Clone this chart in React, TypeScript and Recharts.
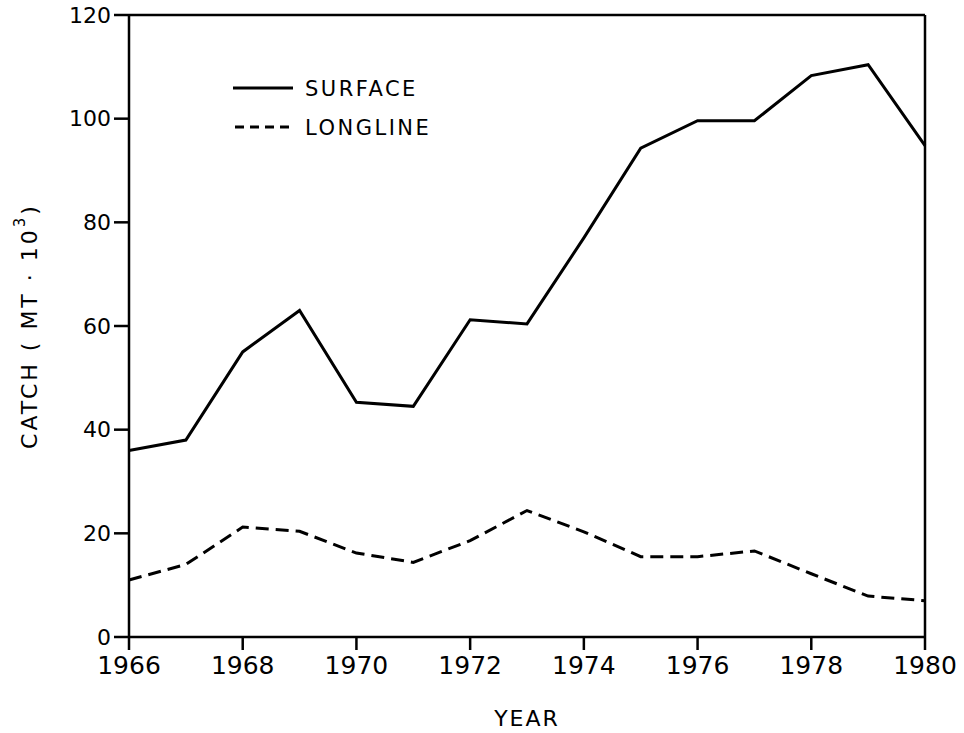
import { LineChart, Line, XAxis, YAxis, ReferenceLine } from "recharts";

const years = [1966, 1967, 1968, 1969, 1970, 1971, 1972, 1973, 1974, 1975, 1976, 1977, 1978, 1979, 1980];
const surface = [36, 38, 55, 63, 45.3, 44.5, 61.2, 60.4, 77, 94.3, 99.6, 99.6, 108.3, 110.4, 94.8];
const longline = [11, 14, 21.2, 20.4, 16.2, 14.4, 18.6, 24.4, 20.3, 15.5, 15.5, 16.6, 12.2, 7.9, 7];
const xTicks = [1966, 1968, 1970, 1972, 1974, 1976, 1978, 1980];
const yTicks = [0, 20, 40, 60, 80, 100, 120];

const data = years.map((year, i) => ({ year, surface: surface[i], longline: longline[i] }));

const FONT = "'DejaVu Sans', sans-serif";

// legend drawn as an overlay so it doesn't eat into the plot margin
function LegendBox() {
  return (
    <svg
      width={260}
      height={70}
      style={{ position: "absolute", left: 233, top: 72, overflow: "visible" }}
    >
      <line x1={0} x2={60} y1={16} y2={16} stroke="#000" strokeWidth={3} />
      <text x={72} y={24} fontFamily={FONT} fontSize={21} letterSpacing={2.5} fill="#000">SURFACE</text>
      <line x1={2} x2={60} y1={55} y2={55} stroke="#000" strokeWidth={3} strokeDasharray="9 6" />
      <text x={72} y={63} fontFamily={FONT} fontSize={21} letterSpacing={2.5} fill="#000">LONGLINE</text>
    </svg>
  );
}

function YLabel({ viewBox }: any) {
  const cy = viewBox.y + viewBox.height / 2;
  const cx = 29;
  return (
    <text
      x={cx}
      y={cy}
      transform={`rotate(-90 ${cx} ${cy})`}
      textAnchor="middle"
      dominantBaseline="central"
      fontFamily={FONT}
      fontSize={22}
      letterSpacing={3}
      fill="#000"
    >
      CATCH ( MT · 10<tspan dy={-9} fontSize={15}>3</tspan><tspan dy={9}>)</tspan>
    </text>
  );
}

export default function App() {
  return (
    <div style={{ position: "absolute", left: 0, top: 0, width: 964, height: 733, background: "#fff" }}>
      <LineChart width={964} height={733} data={data} margin={{ top: 15, right: 39, bottom: 0, left: 0 }}>
        <XAxis
          dataKey="year"
          type="number"
          domain={[1966, 1980]}
          ticks={xTicks}
          height={96}
          stroke="#000"
          strokeWidth={2.5}
          tickSize={13}
          tickMargin={6}
          tick={{ fill: "#000", fontSize: 25, fontFamily: FONT }}
          label={{ value: "YEAR", position: "insideBottom", offset: 7, fill: "#000", fontSize: 22, letterSpacing: 2, fontFamily: FONT }}
        />
        <YAxis
          type="number"
          domain={[0, 120]}
          ticks={yTicks}
          width={129}
          stroke="#000"
          strokeWidth={2.5}
          tickSize={15}
          tickMargin={3}
          tick={{ fill: "#000", fontSize: 22, fontFamily: FONT }}
          label={<YLabel />}
        />
        <ReferenceLine y={120} stroke="#000" strokeWidth={2.5} />
        <ReferenceLine x={1980} stroke="#000" strokeWidth={2.5} />
        <Line
          dataKey="surface"
          type="linear"
          stroke="#000"
          strokeWidth={3}
          dot={false}
          isAnimationActive={false}
        />
        <Line
          dataKey="longline"
          type="linear"
          stroke="#000"
          strokeWidth={3}
          strokeDasharray="13 7"
          dot={false}
          isAnimationActive={false}
        />
      </LineChart>
      <LegendBox />
    </div>
  );
}
